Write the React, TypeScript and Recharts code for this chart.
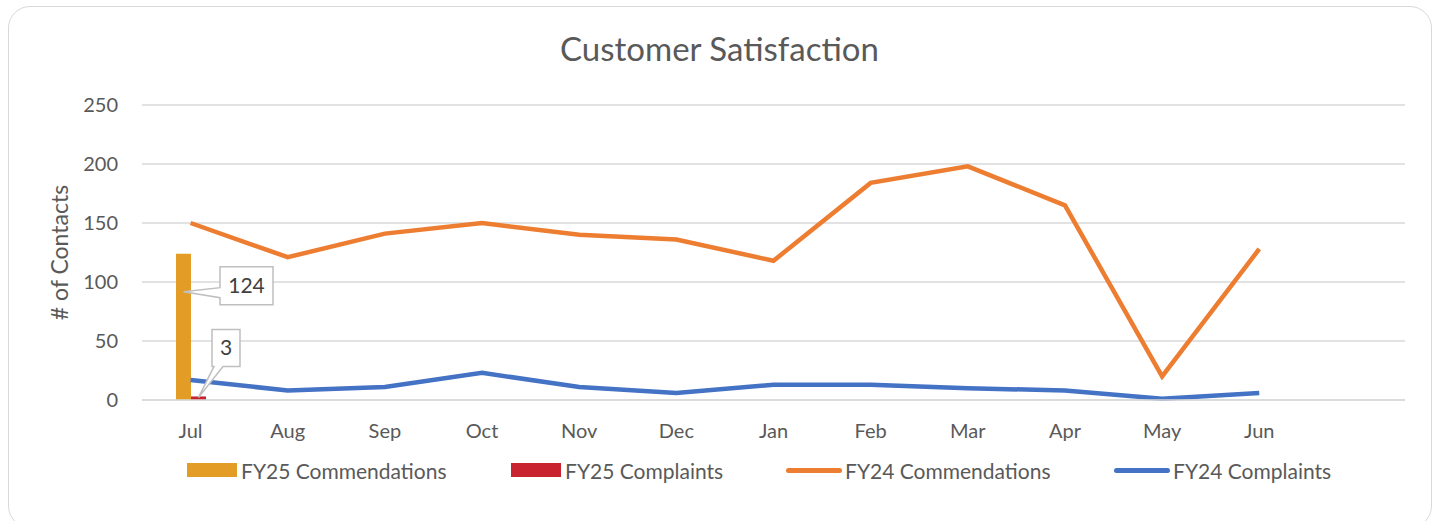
import React from "react";
import { ComposedChart, Bar, Line, XAxis, YAxis, CartesianGrid, LabelList } from "recharts";

// months of the financial year, plus one empty slot at the end like the original chart
const months = ["Jul", "Aug", "Sep", "Oct", "Nov", "Dec", "Jan", "Feb", "Mar", "Apr", "May", "Jun", ""];
const fy25Commendations = [124];
const fy25Complaints = [3];
const fy24Commendations = [150, 121, 141, 150, 140, 136, 118, 184, 198, 165, 20, 128];
const fy24Complaints = [17, 8, 11, 23, 11, 6, 13, 13, 10, 8, 1, 6];
const yTicks = [0, 50, 100, 150, 200, 250];

const data = months.map((m, i) => ({
  month: m,
  fy25Comm: fy25Commendations[i],
  fy25Compl: fy25Complaints[i],
  fy24Comm: fy24Commendations[i],
  fy24Compl: fy24Complaints[i],
}));

const FONT = "Lato, 'Open Sans', sans-serif";
const TEXT = "#595959";

// Excel style data callout: a box with a wedge pointing back at the bar
const commCallout = (props: any) => {
  const { x, y, width, value } = props;
  if (value == null) return null;
  const left = x + width + 29;
  const top = y + 13;
  const w = 53;
  const h = 38;
  const px = x + width / 2;
  const py = y + 38;
  const d = `M${left},${top} L${left + w},${top} L${left + w},${top + h} L${left},${top + h} L${left},${top + 31} L${px},${py} L${left},${top + 21} Z`;
  return (
    <g>
      <path d={d} fill="#fff" stroke="#bfbfbf" strokeWidth={1.5} />
      <text x={left + w / 2} y={top + h / 2 + 7} textAnchor="middle" fontSize={21} fill="#404040" fontFamily={FONT}>
        {value}
      </text>
    </g>
  );
};

const complCallout = (props: any) => {
  const { x, y, width, value } = props;
  if (value == null) return null;
  const left = x + 21;
  const top = y - 67;
  const w = 28;
  const h = 37;
  const px = x + width / 2;
  const py = y + 1;
  const d = `M${left},${top} L${left + w},${top} L${left + w},${top + h} L${left + 11},${top + h} L${px},${py} L${left + 2},${top + h} L${left},${top + h} Z`;
  return (
    <g>
      <path d={d} fill="#fff" stroke="#bfbfbf" strokeWidth={1.5} />
      <text x={left + w / 2} y={top + h / 2 + 7} textAnchor="middle" fontSize={21} fill="#404040" fontFamily={FONT}>
        {value}
      </text>
    </g>
  );
};

const legendItems = [
  { label: "FY25 Commendations", color: "#E39D27", kind: "rect", left: 187 },
  { label: "FY25 Complaints", color: "#C8232F", kind: "rect", left: 511 },
  { label: "FY24 Commendations", color: "#ED7D31", kind: "line", left: 786 },
  { label: "FY24 Complaints", color: "#4472C4", kind: "line", left: 1114 },
];

export default function App() {
  return (
    <div style={{ position: "absolute", left: 0, top: 0, width: 1439, height: 521, fontFamily: FONT }}>
      <div
        style={{
          position: "absolute",
          left: 8,
          top: 6,
          width: 1422,
          height: 520,
          border: "1.5px solid #d9d9d9",
          borderRadius: 22,
          background: "#fff",
        }}
      />
      <div
        style={{
          position: "absolute",
          left: 0,
          top: 28,
          width: 1439,
          textAlign: "center",
          fontSize: 33,
          color: TEXT,
        }}
      >
        Customer Satisfaction
      </div>
      <div style={{ position: "absolute", left: 0, top: 0 }}>
        <ComposedChart
          width={1439}
          height={521}
          data={data}
          margin={{ top: 105, right: 34, bottom: 81, left: 82 }}
          barCategoryGap="35%"
          barGap={0}
        >
          <CartesianGrid vertical={false} stroke="#d9d9d9" strokeWidth={1.5} />
          <XAxis
            dataKey="month"
            height={40}
            tickLine={false}
            axisLine={{ stroke: "#d9d9d9", strokeWidth: 1.5 }}
            tickMargin={18}
            tick={{ fill: TEXT, fontSize: 20, fontFamily: FONT }}
            interval={0}
          />
          <YAxis
            width={60}
            domain={[0, 250]}
            ticks={yTicks}
            axisLine={false}
            tickLine={false}
            tickMargin={18}
            tick={{ fill: TEXT, fontSize: 20, fontFamily: FONT }}
            label={{
              value: "# of Contacts",
              angle: -90,
              position: "left",
              offset: 22,
              style: { fill: TEXT, fontSize: 23, fontFamily: FONT, textAnchor: "middle" },
            }}
          />
          <Bar dataKey="fy25Comm" fill="#E39D27" isAnimationActive={false}>
            <LabelList dataKey="fy25Comm" content={commCallout} />
          </Bar>
          <Bar dataKey="fy25Compl" fill="#C8232F" isAnimationActive={false}>
            <LabelList dataKey="fy25Compl" content={complCallout} />
          </Bar>
          <Line
            dataKey="fy24Comm"
            stroke="#ED7D31"
            strokeWidth={4.5}
            dot={false}
            activeDot={false}
            isAnimationActive={false}
          />
          <Line
            dataKey="fy24Compl"
            stroke="#4472C4"
            strokeWidth={4.5}
            dot={false}
            activeDot={false}
            isAnimationActive={false}
          />
        </ComposedChart>
      </div>
      {legendItems.map((it) => (
        <div
          key={it.label}
          style={{
            position: "absolute",
            left: it.left,
            top: 457,
            height: 26,
            display: "flex",
            alignItems: "center",
            fontSize: 21,
            color: TEXT,
            whiteSpace: "nowrap",
          }}
        >
          {it.kind === "rect" ? (
            <span style={{ display: "inline-block", width: 50, height: 14, background: it.color, marginRight: 4 }} />
          ) : (
            <span
              style={{
                display: "inline-block",
                width: 56,
                height: 5,
                borderRadius: 3,
                background: it.color,
                marginRight: 3,
              }}
            />
          )}
          {it.label}
        </div>
      ))}
    </div>
  );
}
